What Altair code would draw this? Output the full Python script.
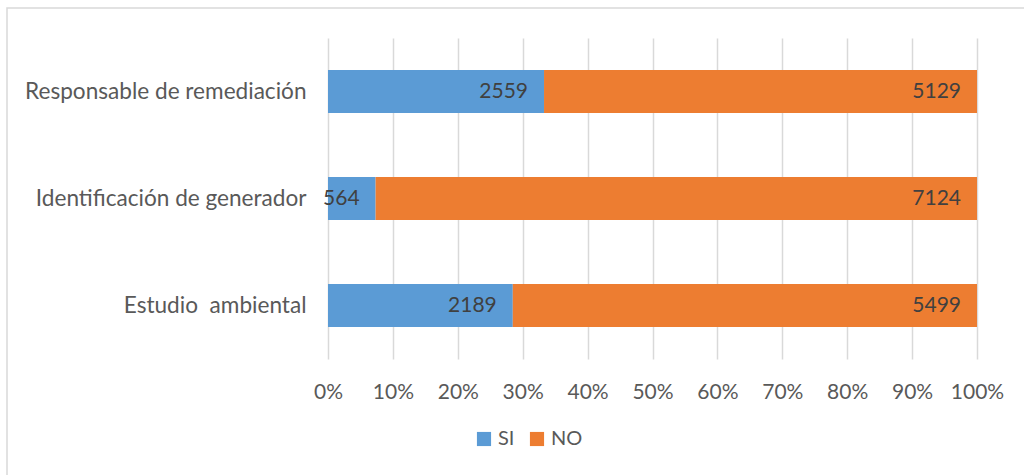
import altair as alt
import pandas as pd

categories = ["Responsable de remediación", "Identificación de generador", "Estudio\u00a0 ambiental"]
si_values = [2559, 564, 2189]
no_values = [5129, 7124, 5499]
series = ["SI", "NO"]
colors = ["#5B9BD5", "#ED7D31"]

rows = []
for c, s, n in zip(categories, si_values, no_values):
    rows.append({"cat": c, "serie": "SI", "order": 0, "value": s})
    rows.append({"cat": c, "serie": "NO", "order": 1, "value": n})
df = pd.DataFrame(rows)

FONT = "Lato"

base = alt.Chart(df).transform_stack(
    stack="value", groupby=["cat"], as_=["v0", "v1"], offset="normalize",
    sort=[alt.SortField("order", "ascending")]
)

yenc = alt.Y("cat:N", sort=categories, title=None,
             scale=alt.Scale(paddingInner=0.6, paddingOuter=0.3),
             axis=alt.Axis(labelFont=FONT, labelFontSize=22.6, labelColor="#595959",
                           ticks=False, domain=False, labelPadding=22, labelLimit=400))

bars = base.mark_bar().encode(
    x=alt.X("v0:Q", scale=alt.Scale(domain=[0, 1], nice=False), title=None,
            axis=alt.Axis(format=".0%", values=[i / 10 for i in range(11)],
                          grid=True, gridColor="#D9D9D9", gridWidth=1.5,
                          domain=False, ticks=False, labelFont=FONT, labelFontSize=21,
                          labelColor="#595959", labelPadding=22, labelFlush=False)),
    x2="v1:Q",
    y=yenc,
    color=alt.Color("serie:N", scale=alt.Scale(domain=series, range=colors),
                    sort=series, title=None,
                    legend=alt.Legend(orient="none", legendX=146, legendY=391,
                                      direction="horizontal", symbolType="square",
                                      symbolSize=200, symbolStrokeWidth=0,
                                      labelFont=FONT, labelFontSize=20,
                                      labelColor="#595959", columnPadding=12,
                                      symbolOffset=0, labelOffset=4)),
    order=alt.Order("order:Q"),
)

labels = base.mark_text(align="right", baseline="middle", dx=-16, font=FONT,
                        fontSize=21, color="#404040").encode(
    x="v1:Q",
    y=alt.Y("cat:N", sort=categories),
    text="value:Q",
)

border_df = pd.DataFrame({"k": [0]})
border = alt.Chart(border_df).mark_rect(fill=None, stroke="#D9D9D9", strokeWidth=1.5,
                                         clip=False).encode(
    x=alt.value(-321), x2=alt.value(701), y=alt.value(-30), y2=alt.value(445)
)

chart = alt.layer(bars, labels, border).properties(
    width=649, height=321,
    autosize=alt.AutoSizeParams(type="none"),
    padding={"left": 328, "top": 38, "right": 47, "bottom": 116},
).configure(background="white").configure_view(strokeWidth=0, stroke=None)

chart.save("out.html", embed_options={"renderer": "svg", "actions": False})
